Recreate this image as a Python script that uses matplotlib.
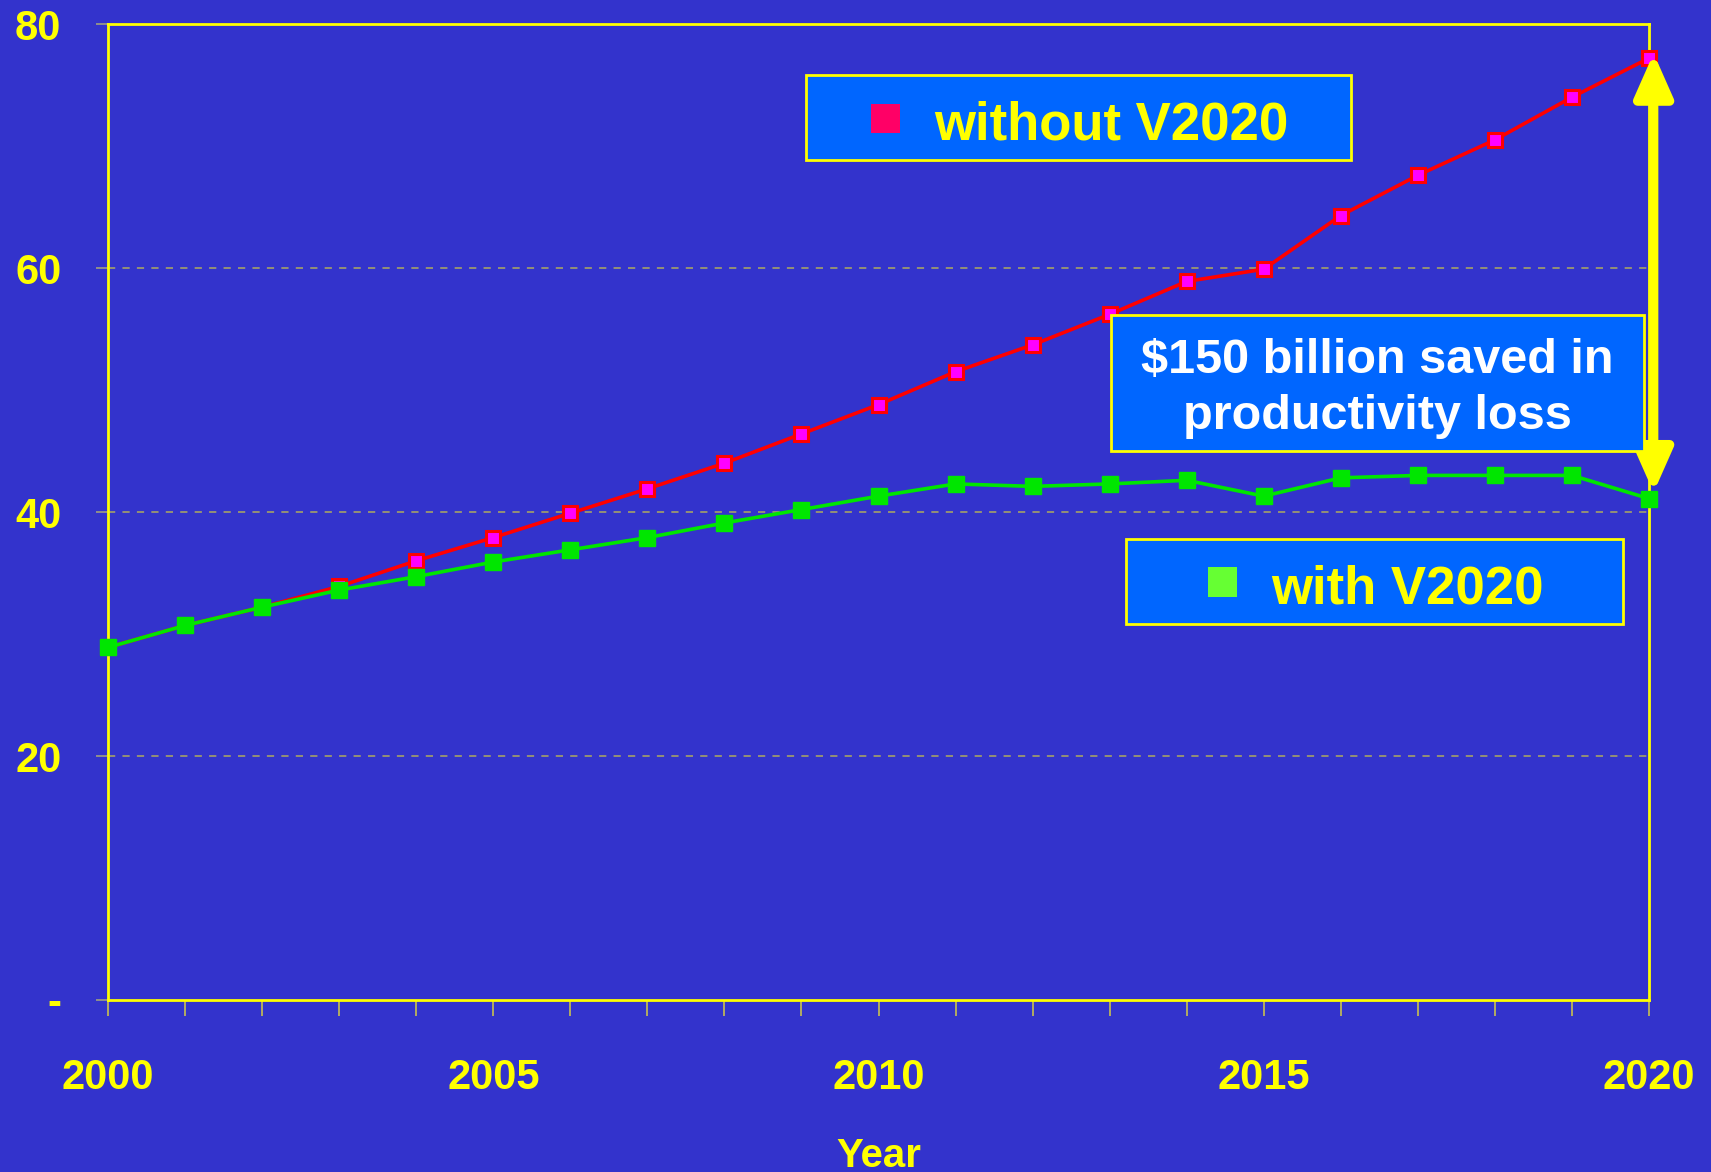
import matplotlib
matplotlib.use("Agg")
import matplotlib.pyplot as plt
from matplotlib.patches import Rectangle, FancyArrowPatch

years = list(range(2000, 2021))
without_v2020 = [28.9, 30.7, 32.2, 33.9, 36.0, 37.9, 39.9, 41.9, 44.0, 46.4, 48.8,
                 51.5, 53.7, 56.2, 58.9, 59.9, 64.3, 67.6, 70.5, 74.0, 77.2]
with_v2020 = [28.9, 30.7, 32.2, 33.6, 34.7, 35.9, 36.9, 37.9, 39.1, 40.2, 41.3,
              42.3, 42.1, 42.3, 42.6, 41.3, 42.8, 43.0, 43.0, 43.0, 41.1]
y_ticks = [0, 20, 40, 60, 80]
y_labels = ['-', '20', '40', '60', '80']
x_labels = [str(y) if y % 5 == 0 else '' for y in years]

BG = '#3333cc'
BOX = '#0066ff'
YEL = '#ffff00'
FONT = ['Liberation Sans', 'DejaVu Sans']

W, H = 1711, 1172
fig = plt.figure(figsize=(W / 100, H / 100), dpi=100, facecolor=BG)
ax = fig.add_axes([108 / W, 1 - 1000 / H, (1649 - 108) / W, (1000 - 24) / H])
ax.set_facecolor(BG)

ax.plot(years, without_v2020, color='#ff0000', lw=2.6, marker='s', ms=10.5,
        mfc='#ff00ff', mec='#ff0000', mew=2.2, zorder=3, clip_on=False)
ax.plot(years, with_v2020, color='#00e600', lw=2.6, marker='s', ms=11,
        mfc='#00e600', mec='#00e600', zorder=4, clip_on=False)

ax.set_xlim(2000, 2020)
ax.set_ylim(0, 80)
ax.set_xticks(years)
ax.set_xticklabels(x_labels)
ax.set_yticks(y_ticks)
ax.set_yticklabels(y_labels)
for lab in ax.get_xticklabels() + ax.get_yticklabels():
    lab.set_family(FONT)
    lab.set_fontweight('bold')
    lab.set_fontsize(30)
    lab.set_color(YEL)
ax.tick_params(axis='x', direction='out', length=11.5, width=1.2, color='#c8c050', pad=30)
ax.tick_params(axis='y', direction='out', length=8.5, width=1.2, color='#a0a080', pad=25)

for s in ax.spines.values():
    s.set_color(YEL)
    s.set_linewidth(2)
for g in [20, 40, 60]:
    ax.axhline(g, color='#9c9870', lw=1.3, ls=(0, (4, 4)), zorder=1)

ax.set_xlabel('Year', family=FONT, fontweight='bold', fontsize=29, color=YEL, labelpad=28)


def px(x, y):
    return x / W, 1 - y / H


def box(x0, y0, x1, y1):
    fig.add_artist(Rectangle(px(x0, y1), (x1 - x0) / W, (y1 - y0) / H,
                             transform=fig.transFigure, facecolor=BOX,
                             edgecolor=YEL, lw=2, zorder=5))


# legend boxes
box(806, 75, 1351, 160)
fig.add_artist(Rectangle(px(871, 133), 29 / W, 29 / H, transform=fig.transFigure,
                         facecolor='#ff0066', edgecolor='none', zorder=6))
fig.text(*px(934, 140), 'without V2020', family=FONT, fontweight='bold', fontsize=38,
         color=YEL, ha='left', va='baseline', zorder=6)

box(1126, 539, 1623, 624)
fig.add_artist(Rectangle(px(1208, 597), 29 / W, 30 / H, transform=fig.transFigure,
                         facecolor='#66ff33', edgecolor='none', zorder=6))
fig.text(*px(1271, 603), 'with V2020', family=FONT, fontweight='bold', fontsize=38,
         color=YEL, ha='left', va='baseline', zorder=6)

# savings annotation
box(1111, 315, 1644, 451)
fig.text(*px(1377, 373), '$150 billion saved in', family=FONT, fontweight='bold',
         fontsize=35, color='white', ha='center', va='baseline', zorder=6)
fig.text(*px(1377, 429), 'productivity loss', family=FONT, fontweight='bold',
         fontsize=35, color='white', ha='center', va='baseline', zorder=6)

arrow = FancyArrowPatch((2020.06, 77.6), (2020.06, 41.6),
                        arrowstyle='<|-|>,head_length=2.6,head_width=1.15',
                        mutation_scale=10, lw=6.8, color=YEL, shrinkA=0, shrinkB=0,
                        clip_on=False, zorder=7)
ax.add_patch(arrow)

fig.savefig('out.png', dpi=100, facecolor=BG)
